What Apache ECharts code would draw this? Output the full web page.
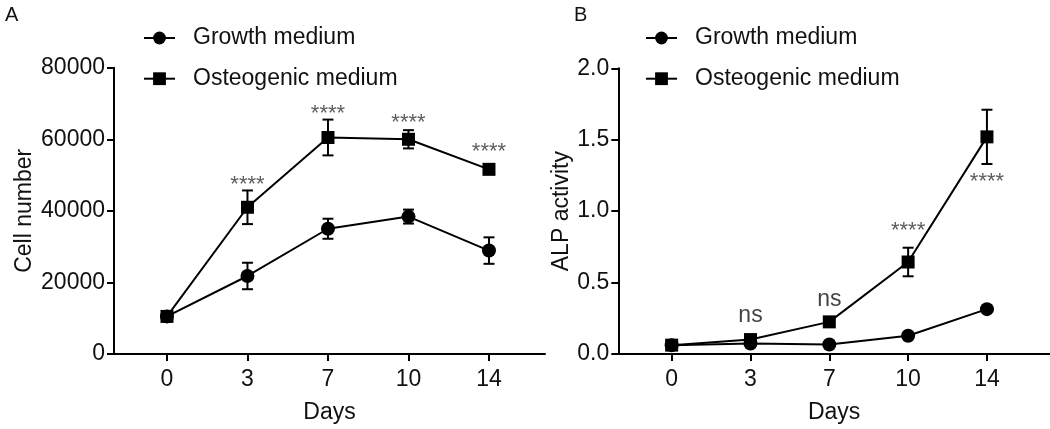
<!DOCTYPE html>
<html>
<head>
<meta charset="utf-8">
<script src="https://cdn.jsdelivr.net/npm/echarts@6/dist/echarts.min.js"></script>
<style>
html,body{margin:0;padding:0;background:#fff;}
#chart{width:1050px;height:429px;}
</style>
</head>
<body>
<div id="chart"></div>
<script>
var days = ['0', '3', '7', '10', '14'];
var seriesNames = ['Growth medium', 'Osteogenic medium'];

// Panel A: cell number
var cellGrowthMean = [10500, 21800, 35000, 38400, 28900];
var cellGrowthErr  = [0, 3700, 2800, 1950, 3700];
var cellOsteoMean  = [10500, 41000, 60500, 60000, 51600];
var cellOsteoErr   = [0, 4700, 5000, 2550, 700];
var cellSigText = ['', '****', '****', '****', '****'];
var cellSigY    = [null, 48100, 67900, 65500, 57400];

// Panel B: ALP activity
var alpGrowthMean = [0.062, 0.073, 0.066, 0.128, 0.314];
var alpGrowthErr  = [0, 0, 0, 0.01, 0.015];
var alpOsteoMean  = [0.062, 0.101, 0.225, 0.644, 1.52];
var alpOsteoErr   = [0, 0, 0, 0.10, 0.19];
var alpSigText = ['', 'ns', 'ns', '****', '****'];
var alpSigY    = [null, 0.253, 0.365, 0.882, 1.224];

var yTicksA = [0, 20000, 40000, 60000, 80000];
var yTicksB = [0, 0.5, 1.0, 1.5, 2.0];

var FONT = '"Liberation Sans", Arial, sans-serif';
var idx = days.map(function (d, i) { return i; });

function pts(mean) { return mean.map(function (v, i) { return [i, v]; }); }
function errs(mean, err) { return mean.map(function (v, i) { return [i, v - err[i], v + err[i]]; }); }
function sig(ys, texts) {
  var out = [];
  ys.forEach(function (v, i) { if (v !== null) out.push({ value: [i, v], name: texts[i] }); });
  return out;
}

function errorBar(name, gi, data) {
  return {
    type: 'custom', name: name + ' err', xAxisIndex: gi, yAxisIndex: gi, z: 3,
    silent: true,
    renderItem: function (params, api) {
      var x = api.value(0);
      var lo = api.coord([x, api.value(1)]);
      var hi = api.coord([x, api.value(2)]);
      if (Math.abs(hi[1] - lo[1]) < 1) return null;
      var hw = 5.5;
      var st = { stroke: '#000', lineWidth: 2 };
      return {
        type: 'group', children: [
          { type: 'line', shape: { x1: lo[0], y1: lo[1], x2: hi[0], y2: hi[1] }, style: st },
          { type: 'line', shape: { x1: lo[0] - hw, y1: lo[1], x2: lo[0] + hw, y2: lo[1] }, style: st },
          { type: 'line', shape: { x1: hi[0] - hw, y1: hi[1], x2: hi[0] + hw, y2: hi[1] }, style: st }
        ]
      };
    },
    encode: { x: 0, y: [1, 2] },
    data: data
  };
}

function lineSeries(name, gi, data, symbol, size) {
  return {
    type: 'line', name: name, xAxisIndex: gi, yAxisIndex: gi, z: 4,
    data: data, symbol: symbol, symbolSize: size, showSymbol: true,
    lineStyle: { color: '#000', width: 2 },
    itemStyle: { color: '#000', borderWidth: 0 },
    emphasis: { disabled: true },
    animation: false
  };
}

function sigSeries(gi, data) {
  return {
    type: 'scatter', xAxisIndex: gi, yAxisIndex: gi, z: 5, silent: true,
    symbolSize: 1, itemStyle: { color: 'transparent' },
    data: data.map(function (d) {
      var isStar = d.name.indexOf('*') >= 0;
      return {
        value: d.value, name: d.name,
        label: {
          show: true, position: 'inside',
          formatter: d.name,
          fontFamily: FONT,
          fontSize: isStar ? 22 : 23,
          color: isStar ? '#333' : '#111',
          offset: isStar ? [0, 3] : [0, -2]
        }
      };
    })
  };
}

function xAxis(gi, min, max) {
  return {
    type: 'value', gridIndex: gi, min: min, max: max,
    name: 'Days', nameLocation: 'middle', nameGap: 47,
    nameTextStyle: { fontFamily: FONT, fontSize: 23, color: '#111' },
    axisLine: { show: true, onZero: false, lineStyle: { color: '#000', width: 2 } },
    axisTick: { show: true, customValues: idx, length: 7, lineStyle: { color: '#000', width: 2 } },
    axisLabel: {
      customValues: idx, margin: 14,
      formatter: function (v) { return days[Math.round(v)]; },
      fontFamily: FONT, fontSize: 23, color: '#111'
    },
    splitLine: { show: false }
  };
}

function yAxis(gi, name, ticks, fmt, gap) {
  return {
    type: 'value', gridIndex: gi, min: ticks[0], max: ticks[ticks.length - 1],
    interval: ticks[1] - ticks[0],
    name: name, nameLocation: 'middle', nameGap: gap, nameRotate: 90,
    nameTextStyle: { fontFamily: FONT, fontSize: 23, color: '#111' },
    axisLine: { show: true, onZero: false, lineStyle: { color: '#000', width: 2 } },
    axisTick: { show: true, length: 7, lineStyle: { color: '#000', width: 2 } },
    axisLabel: { margin: 9, formatter: fmt, fontFamily: FONT, fontSize: 23, color: '#111' },
    splitLine: { show: false }
  };
}

function legend(left) {
  return {
    left: left, top: 20, orient: 'vertical',
    itemWidth: 31, itemHeight: 16, itemGap: 14.7,
    data: seriesNames,
    selectedMode: false,
    textStyle: { fontFamily: FONT, fontSize: 23, color: '#111', lineHeight: 26, padding: [0, 0, 0, 13] }
  };
}

var chart = echarts.init(document.getElementById('chart'), null, { renderer: 'canvas' });
chart.setOption({
  animation: false,
  backgroundColor: '#fff',
  title: [
    { text: 'A', left: 0, top: 0, textStyle: { fontFamily: FONT, fontSize: 20, fontWeight: 'normal', color: '#111' } },
    { text: 'B', left: 569, top: 0, textStyle: { fontFamily: FONT, fontSize: 20, fontWeight: 'normal', color: '#111' } }
  ],
  legend: [legend(138), legend(640)],
  grid: [
    { left: 114, top: 67.7, width: 431, height: 286.3 },
    { left: 618.3, top: 68.3, width: 440, height: 286.2 }
  ],
  xAxis: [xAxis(0, -0.658, 4.696), xAxis(1, -0.677, 4.80)],
  yAxis: [
    yAxis(0, 'Cell number', yTicksA, function (v) { return String(v); }, 78),
    yAxis(1, 'ALP activity', yTicksB, function (v) { return v.toFixed(1); }, 39)
  ],
  series: [
    errorBar('g', 0, errs(cellGrowthMean, cellGrowthErr)),
    errorBar('o', 0, errs(cellOsteoMean, cellOsteoErr)),
    lineSeries(seriesNames[0], 0, pts(cellGrowthMean), 'circle', 14),
    lineSeries(seriesNames[1], 0, pts(cellOsteoMean), 'rect', 13),
    sigSeries(0, sig(cellSigY, cellSigText)),
    errorBar('g', 1, errs(alpGrowthMean, alpGrowthErr)),
    errorBar('o', 1, errs(alpOsteoMean, alpOsteoErr)),
    lineSeries(seriesNames[0], 1, pts(alpGrowthMean), 'circle', 14),
    lineSeries(seriesNames[1], 1, pts(alpOsteoMean), 'rect', 13),
    sigSeries(1, sig(alpSigY, alpSigText))
  ]
});
</script>
</body>
</html>
